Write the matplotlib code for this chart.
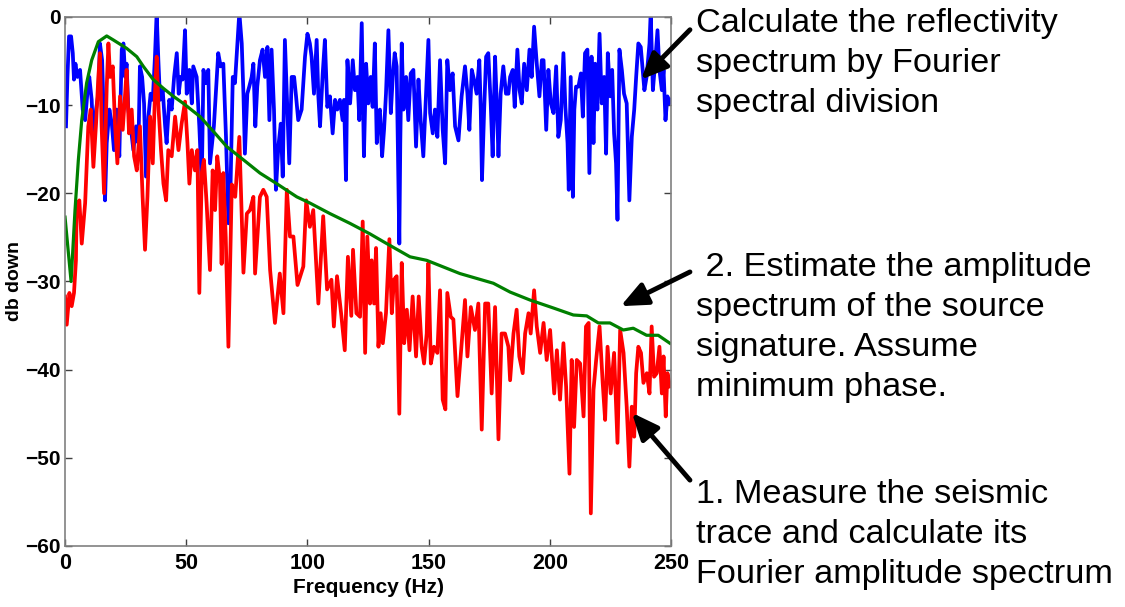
import matplotlib
matplotlib.use("Agg")
import matplotlib.pyplot as plt

plt.rcParams['font.family'] = ['Liberation Sans', 'DejaVu Sans']

# reflectivity spectrum (blue)
blue_hz = [0.4, 1, 1.65, 2.5, 3.2, 3.7, 4.3, 5.1, 6.2, 7.3, 8.3, 9.2, 10, 11, 11.7, 12.8, 13.75, 14.4, 15.3,
           16.1, 16.5, 17.2, 18.3, 19.3, 20.2, 21.3, 22.4, 23.4, 24.1, 24.8, 25.4, 26.1, 27.1, 28.2, 29.3,
           30.3, 30.9, 31.8, 32.6, 33.4, 34.4, 35.3, 36.2, 37.1, 37.8, 38.5, 39.2, 40.3, 41.3, 41.9, 43, 44,
           45, 46.1, 46.9, 47.7, 48.5, 49.5, 50.2, 51.3, 52.3, 52.9, 54.3, 55.4, 56.4, 57.1, 58, 59.1, 59.8,
           61.4, 62.6, 63.2, 64.2, 65.3, 66.4, 67.4, 68.3, 69.2, 70.1, 71.1, 71.9, 72.9, 73.6, 74.2, 75.2,
           76, 77, 77.7, 78.5, 79.3, 80.4, 81.5, 82.5, 83.5, 84.3, 85.2, 86.2, 87, 88, 89, 89.8, 90.7, 91.7,
           92.5, 93.5, 94.5, 95.3, 96.2, 97.6, 99, 100, 101, 101.7, 102.7, 103.8, 104.5, 105.2, 106.3,
           107.2, 108.2, 109.3, 110.4, 111.4, 112.3, 113.4, 114.5, 115.1, 115.9, 116.5, 117.6, 118.7,
           119.6, 120.6, 121.4, 122.4, 123.3, 124.2, 125.1, 126.1, 126.9, 127.8, 128.6, 129.3, 129.9,
           130.8, 131.6, 132.4, 133.4, 134.4, 135.2, 136, 136.8, 137.5, 137.9, 138.3, 138.9, 139.6, 140.7,
           141.6, 142.6, 143.7, 144.8, 145.8, 146.7, 147.8, 148.8, 149.9, 150.6, 151.7, 152.6, 153.6,
           154.7, 155.8, 156.8, 157.7, 158.8, 159.9, 160.9, 162.3, 163.6, 165, 166, 166.8, 167.8, 168.7,
           169.8, 170.9, 171.5, 172, 172.9, 173.7, 174.6, 175.6, 176.4, 177.4, 178.1, 178.8, 179.7, 180.8,
           181.9, 182.9, 183.6, 184.7, 185.5, 186.6, 187.5, 188.4, 189.4, 190.5, 191.6, 192.5, 193.5,
           194.6, 195.7, 196.7, 197.4, 198.5, 199.4, 200.4, 201.5, 202.6, 203.5, 204.5, 205.6, 206.4,
           207.3, 207.8, 208.6, 209.5, 210.1, 210.8, 211.8, 212.8, 213.6, 214.5, 215.5, 216.3, 217.2, 218,
           218.7, 219.6, 220.5, 221.4, 222.4, 223.2, 223.9, 224.9, 225.7, 226.5, 227.3, 227.9, 228.7,
           229.7, 230.6, 231.7, 232.8, 233.8, 234.8, 235.6, 236.5, 237.5, 238.3, 239, 239.9, 241.1, 241.6,
           242.5, 243.4, 244.4, 245.2, 246.2, 246.9, 247.7, 248.5, 249.3, 250]
blue_db = [-12.4, -6.8, -2.2, -2.2, -4.1, -7.1, -5.3, -6.8, -6.0, -10.5, -11.7, -8.7, -6.8, -9.4, -14.3, -10.5,
           -8.7, -3.0, -4.9, -12.4, -20.8, -14.3, -10.5, -12.1, -15.1, -10.5, -15.8, -3.7, -3.0, -6.8, -5.3,
           -10.5, -12.4, -15.1, -12.4, -14.3, -5.6, -6.8, -9.8, -18.1, -11.3, -8.7, -9.4, -4.5, 0.5, -4.9,
           -9.4, -8.3, -12.4, -14.3, -9.4, -10.5, -6.8, -4.1, -8.7, -6.8, -7.1, -1.5, -8.7, -6.0, -9.8, -5.6,
           -6.8, -12.4, -18.9, -6.0, -7.5, -6.0, -16.6, -12.4, -6.8, -4.1, -5.6, -5.3, -13.6, -23.4, -18.9,
           -6.8, -7.5, -3.0, 0.5, -3.0, -8.7, -15.5, -8.7, -7.9, -6.8, -5.3, -12.4, -7.9, -4.9, -3.7, -6.8,
           -3.4, -11.7, -3.7, -10.5, -19.6, -14.7, -12.1, -18.1, -2.6, -10.5, -16.6, -6.8, -6.8, -9.0,
           -11.7, -10.5, -4.5, -1.9, -3.0, -4.5, -8.7, -2.6, -9.0, -12.4, -6.4, -2.6, -10.2, -9.0, -13.2,
           -9.4, -10.5, -9.4, -11.7, -9.4, -18.5, -4.9, -9.8, -4.9, -8.3, -6.8, -11.7, -0.7, -15.8, -5.3,
           -9.8, -6.8, -10.2, -3.0, -14.3, -10.9, -10.5, -15.8, -12.8, -8.7, -1.5, -10.9, -6.8, -4.1, -5.6,
           -18.1, -25.7, -14.3, -3.0, -10.5, -6.8, -11.7, -6.4, -6.0, -14.7, -7.1, -11.7, -15.8, -9.4, -2.6,
           -10.9, -13.2, -10.5, -13.6, -4.9, -12.8, -16.6, -4.9, -8.3, -6.4, -12.4, -14.0, -9.0, -5.6, -8.7,
           -12.8, -6.0, -7.1, -8.7, -4.9, -10.5, -18.5, -10.5, -4.5, -4.1, -9.8, -15.8, -4.5, -9.8, -15.8,
           -8.7, -5.6, -8.7, -8.7, -6.8, -6.0, -10.2, -3.7, -8.3, -9.8, -5.3, -8.3, -3.7, -6.8, -1.1, -5.3,
           -9.0, -4.9, -4.9, -12.8, -6.0, -9.8, -10.9, -5.6, -13.6, -11.7, -4.1, -10.2, -14.3, -19.6, -6.8,
           -20.4, -10.5, -7.9, -7.9, -6.4, -11.3, -4.1, -3.7, -17.7, -4.5, -14.3, -5.3, -10.5, -1.9, -9.8,
           -6.8, -15.5, -4.1, -9.0, -6.0, -13.2, -16.6, -23.0, -3.7, -6.0, -8.7, -9.8, -20.8, -13.6, -10.5,
           -6.8, -3.0, -3.4, -6.0, -8.3, -6.8, -3.0, 0.5, -8.3, -5.3, -1.5, -6.0, -8.3, -6.0, -11.7, -9.0,
           -9.8, -9.4]

# seismic trace spectrum (red)
red_hz = [0, 0.7, 1.8, 2.75, 3.7, 4.5, 4.8, 5.9, 6.9, 8.3, 9.6, 10.6, 11.7, 12.8, 13.75, 14.4, 15.1, 16.1,
          17.2, 17.9, 18.6, 19.7, 20.6, 21.6, 22.7, 23.8, 24.8, 25.4, 26.4, 27.5, 28.5, 29.6, 30.9, 32, 33,
          34, 35.1, 36.2, 37.1, 37.8, 38.6, 39.6, 40.6, 41.7, 42.6, 44, 45.4, 46.8, 48.1, 49.5, 50.5, 51.3,
          52.3, 53.6, 54.6, 55.4, 56.4, 57.3, 58.4, 59.8, 60.9, 61.9, 62.8, 63.9, 64.6, 65.3, 66.3, 67.4,
          68.8, 70.2, 71.9, 73.6, 75.0, 76.3, 77.7, 78.4, 80.4, 81.8, 83.2, 84.6, 86.6, 88.6, 90.1, 91.5,
          92.8, 94.2, 95.9, 98.3, 99.5, 101, 102.4, 104.5, 106.5, 108.1, 109.9, 110.9, 112.2, 114, 115.4,
          116.7, 118.1, 118.8, 120.2, 121.7, 122.8, 123.8, 124.7, 125.8, 126.5, 127.5, 128.3, 129.3,
          130.2, 131.1, 132.4, 133.8, 134.8, 135.7, 136.8, 137.9, 138.9, 139.9, 141, 142.1, 143.4, 144.8,
          145.9, 147.1, 148.1, 149.2, 149.9, 150.9, 152.2, 153.6, 154.7, 155.8, 156.9, 157.7, 159.1,
          160.2, 161.9, 163.2, 165, 166, 167.4, 169.1, 170.5, 171.9, 173.3, 174.6, 176, 177.4, 178.8,
          180.1, 181.5, 182.9, 183.6, 185, 186.3, 187.4, 188.8, 189.8, 191.2, 192.1, 193.5, 194.6, 196,
          197.4, 198.7, 200.1, 201.8, 202.9, 204.2, 205.6, 206.7, 208.1, 209.0, 210, 211.1, 212.5, 213.9,
          214.9, 216, 216.9, 218, 219.1, 220.5, 221.8, 222.8, 223.8, 225.1, 226.5, 227.9, 229, 230.4,
          231.7, 232.8, 233.8, 234.8, 235.6, 236.5, 237.6, 238.6, 240, 241.1, 242, 243, 244.1, 245.2,
          246.2, 246.9, 247.8, 248.5, 249.6]
red_db = [-31.7, -34.9, -31.3, -32.8, -31.3, -27.6, -21.5, -20.8, -25.7, -21.1, -12.4, -10.5, -17.0, -12.1,
          -6.8, -4.1, -12.4, -20.0, -7.9, -3.0, -6.8, -5.6, -12.1, -16.6, -9.0, -12.8, -8.7, -6.0, -13.2,
          -10.5, -15.8, -17.4, -12.4, -20.4, -26.4, -20.4, -11.3, -16.6, -8.7, -4.5, -10.5, -15.1, -18.9,
          -20.8, -15.1, -15.8, -11.3, -15.1, -12.1, -9.6, -14.3, -18.9, -15.1, -17.4, -15.1, -31.3, -17.7,
          -16.2, -21.1, -28.7, -17.4, -21.9, -15.8, -18.5, -28.0, -17.7, -25.0, -37.4, -19.0, -20.4, -13.6,
          -29.0, -22.3, -21.9, -20.4, -29.1, -20.4, -19.6, -20.4, -28.7, -34.7, -29.1, -33.6, -19.6, -24.9,
          -24.9, -30.4, -28.3, -20.8, -23.8, -21.9, -32.5, -22.6, -30.9, -29.8, -35.1, -29.4, -33.9, -37.8,
          -27.2, -33.9, -26.4, -33.6, -34.0, -23.2, -38.1, -24.9, -32.5, -27.6, -32.5, -26.2, -37.4, -33.6,
          -37.0, -33.6, -25.2, -33.6, -29.8, -29.4, -45.0, -27.9, -37.0, -33.2, -37.8, -31.7, -38.5, -31.7,
          -37.4, -39.3, -35.9, -27.9, -39.3, -37.4, -38.1, -31.0, -43.4, -44.5, -31.3, -34.0, -34.3, -43.0,
          -38.5, -32.1, -38.5, -32.9, -35.5, -32.5, -46.8, -32.5, -32.5, -42.7, -32.9, -47.9, -35.9, -35.9,
          -37.4, -41.2, -35.9, -33.2, -38.5, -40.4, -35.9, -33.6, -35.9, -31.0, -35.1, -38.1, -34.7, -38.9,
          -35.5, -42.7, -37.8, -43.4, -37.0, -41.9, -51.8, -38.9, -46.5, -38.9, -39.3, -45.3, -35.1, -34.7,
          -56.3, -42.3, -38.9, -35.1, -41.5, -45.7, -37.4, -42.7, -38.1, -48.3, -35.5, -38.1, -44.2, -51.0,
          -44.2, -47.6, -40.4, -37.4, -38.1, -41.5, -40.4, -42.7, -35.1, -40.8, -40.4, -37.4, -42.7, -38.5,
          -45.3, -40.4, -41.9]

# estimated source signature spectrum (green)
green_hz = [0, 2.5, 4.1, 5.5, 6.9, 8.9, 11, 13.75, 17.2, 19.9, 25.4, 29.6, 32.3, 36.4, 40.6, 44.7, 48.8, 55.7,
            60, 66.7, 73.6, 80.4, 87.3, 95.6, 101, 109.3, 117.5, 125.8, 132.7, 142.3, 149.2, 162.9, 176.7,
            183.6, 191.8, 201.4, 209.7, 215.2, 220, 224.8, 230.3, 234.4, 239.9, 244.7, 249.5]
green_db = [-22.7, -30.0, -22.0, -16.2, -11.7, -7.5, -4.9, -2.8, -2.15, -2.6, -3.55, -4.5, -5.6, -7.1, -8.1,
            -9.0, -9.8, -11.3, -12.6, -14.7, -16.2, -17.7, -18.9, -20.4, -21.1, -22.3, -23.4, -24.6, -25.7,
            -27.2, -27.6, -29.1, -30.2, -31.2, -32.1, -33.0, -33.8, -33.9, -34.7, -34.7, -35.5, -35.3, -36.1,
            -36.1, -37.0]

x_ticks = [0, 50, 100, 150, 200, 250]
y_ticks = [-60, -50, -40, -30, -20, -10, 0]

fig = plt.figure(figsize=(11.25, 6.07), dpi=100)
ax = fig.add_axes([0.0578, 0.1005, 0.5387, 0.8715])

ax.plot(blue_hz, blue_db, color='#0000ff', lw=2.7)
ax.plot(red_hz, red_db, color='#ff0000', lw=2.7)
ax.plot(green_hz, green_db, color='#008000', lw=2.3)

ax.set_xlim(0, 250)
ax.set_ylim(-60, 0)
ax.set_xticks(x_ticks)
ax.set_yticks(y_ticks)
ax.tick_params(direction='in', top=True, right=True, length=5, width=1, pad=3,
               labelsize=15, colors='#404040', labelcolor='black')
ax.tick_params(axis='x', labelsize=15.5, pad=5)
for lab in ax.get_xticklabels() + ax.get_yticklabels():
    lab.set_fontweight('bold')
for s in ax.spines.values():
    s.set_color('#808080')
    s.set_linewidth(1.2)

ax.set_xlabel('Frequency (Hz)', fontsize=15, fontweight='bold', labelpad=3)
ax.set_ylabel('db down', fontsize=14, fontweight='bold', labelpad=1.5)

# annotations
txt = dict(fontsize=24.7, ha='left', va='center', transform=fig.transFigure, linespacing=1.37)
fig.text(0.619, 0.895, 'Calculate the reflectivity\nspectrum by Fourier\nspectral division', **txt)
fig.text(0.619, 0.460, ' 2. Estimate the amplitude\nspectrum of the source\nsignature. Assume\nminimum phase.', **txt)
fig.text(0.619, 0.119, '1. Measure the seismic\ntrace and calculate its\nFourier amplitude spectrum', **txt)

arrow = dict(arrowstyle='-|>,head_length=0.8,head_width=0.35', lw=3.5, color='black',
             mutation_scale=20, shrinkA=0, shrinkB=0)
ax.annotate('', xy=(237.6, -7.1), xycoords='data', xytext=(0.6133, 0.951),
            textcoords='figure fraction', arrowprops=arrow, annotation_clip=False)
ax.annotate('', xy=(229.2, -32.8), xycoords='data', xytext=(0.6133, 0.552),
            textcoords='figure fraction', arrowprops=arrow, annotation_clip=False)
ax.annotate('', xy=(233.9, -44.9), xycoords='data', xytext=(0.6133, 0.209),
            textcoords='figure fraction', arrowprops=arrow, annotation_clip=False)

fig.savefig('out.png', dpi=100)
